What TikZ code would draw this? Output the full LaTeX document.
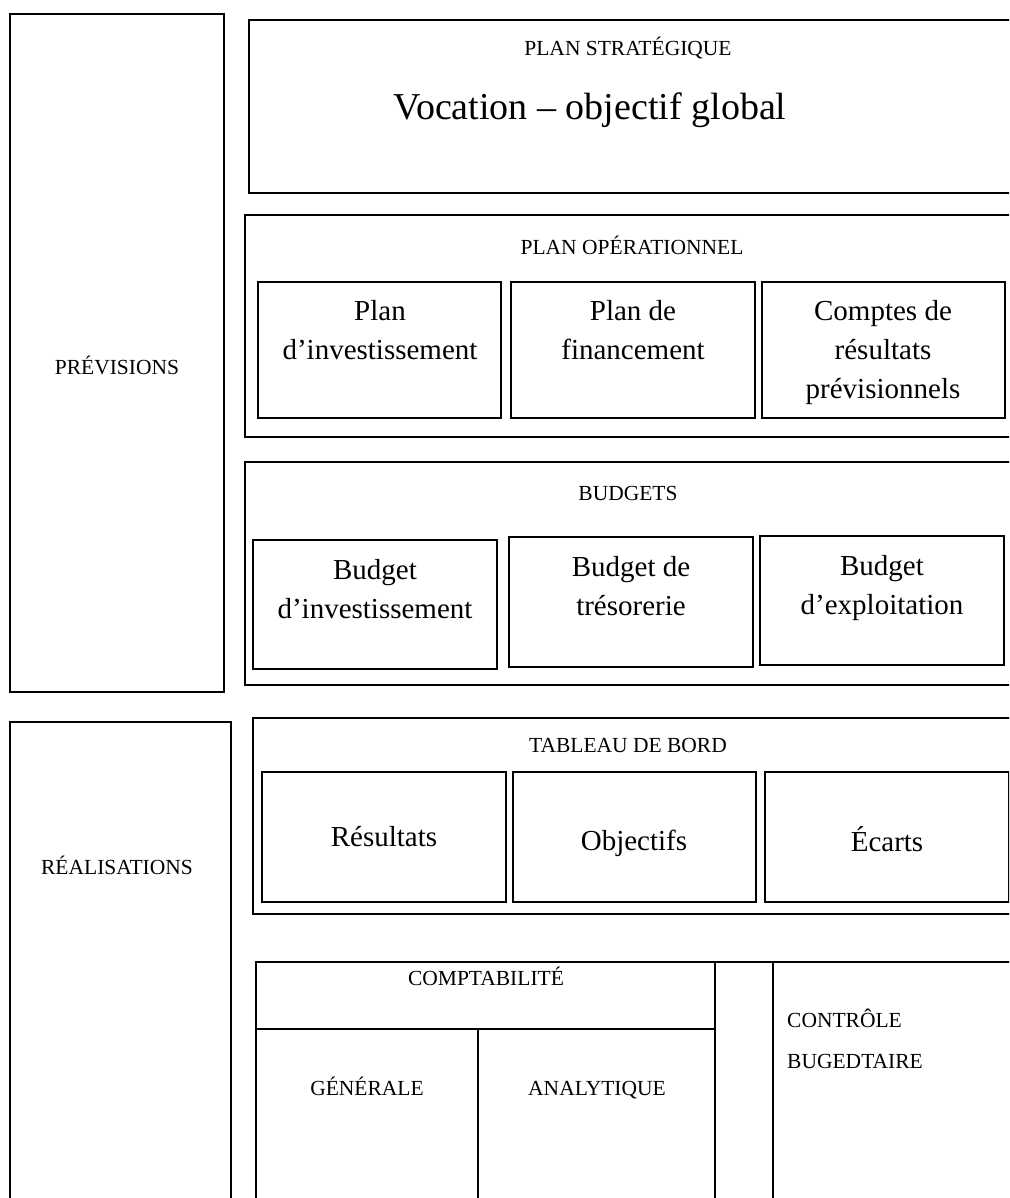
\documentclass[tikz,border=0pt]{standalone}
\usepackage{fontspec}
\setmainfont{Liberation Serif}
\begin{document}
\begin{tikzpicture}[x=1pt,y=-1pt,
  box/.style={draw,line width=1.4pt,anchor=north west,inner sep=0pt,outer sep=0pt},
  small/.style={font=\fontsize{21.5}{41}\selectfont,inner sep=0pt,align=center},
  big/.style={font=\fontsize{29}{39}\selectfont,inner sep=0pt,align=center},
  huge/.style={font=\fontsize{38}{42}\selectfont,inner sep=0pt,align=center},
  ln/.style={line width=1.4pt}]
\useasboundingbox (0,0) rectangle (1009,1198);
\clip (0,0) rectangle (1009,1198);
% left column
\node[box,minimum width=214pt,minimum height=678pt] (prev) at (10,14) {};
\node[small] (tprev) at (117,365) {PRÉVISIONS};
\node[box,minimum width=221pt,minimum height=500pt] (real) at (10,722) {};
\node[small] (treal) at (117,865) {RÉALISATIONS};
% plan strategique
\node[box,minimum width=790pt,minimum height=173pt] (strat) at (249,20) {};
\node[small] (tstrat) at (628,48) {PLAN STRATÉGIQUE};
\node[huge] (tvoc) at (590,110) {Vocation – objectif global};
% plan operationnel
\node[box,minimum width=790pt,minimum height=222pt] (oper) at (245,215) {};
\node[small] (toper) at (632,245) {PLAN OPÉRATIONNEL};
\node[box,minimum width=243pt,minimum height=136pt] (pinv) at (258,282) {};
\node[box,minimum width=244pt,minimum height=136pt] (pfin) at (511,282) {};
\node[box,minimum width=243pt,minimum height=136pt] (pcpt) at (762,282) {};
\node[big,anchor=north] (tpinv) at (380,300) {Plan\\d’investissement};
\node[big,anchor=north] (tpfin) at (633,300) {Plan de\\financement};
\node[big,anchor=north] (tpcpt) at (883,300) {Comptes de\\résultats\\prévisionnels};
% budgets
\node[box,minimum width=790pt,minimum height=223pt] (budg) at (245,462) {};
\node[small] (tbudg) at (628,493) {BUDGETS};
\node[box,minimum width=244pt,minimum height=129pt] (binv) at (253,540) {};
\node[box,minimum width=244pt,minimum height=130pt] (btre) at (509,537) {};
\node[box,minimum width=244pt,minimum height=129pt] (bexp) at (760,536) {};
\node[big,anchor=north] (tbinv) at (375,559) {Budget\\d’investissement};
\node[big,anchor=north] (tbtre) at (631,556) {Budget de\\trésorerie};
\node[big,anchor=north] (tbexp) at (882,555) {Budget\\d’exploitation};
% tableau de bord
\node[box,minimum width=790pt,minimum height=196pt] (tdb) at (253,718) {};
\node[small] (ttdb) at (628,745) {TABLEAU DE BORD};
\node[box,minimum width=244pt,minimum height=130pt] (res) at (262,772) {};
\node[box,minimum width=243pt,minimum height=130pt] (obj) at (513,772) {};
\node[box,minimum width=244pt,minimum height=130pt] (eca) at (765,772) {};
\node[big,anchor=base] (tres) at (384,846) {Résultats};
\node[big,anchor=base] (tobj) at (634,850) {Objectifs};
\node[big,anchor=base] (teca) at (887,851) {Écarts};
% comptabilite
\coordinate (c1) at (256,962);
\coordinate (c2) at (1030,962);
\coordinate (c3) at (256,1210);
\coordinate (c4) at (256,1029);
\coordinate (c5) at (715,1029);
\coordinate (c6) at (715,962);
\coordinate (c7) at (715,1210);
\coordinate (c8) at (773,962);
\coordinate (c9) at (773,1210);
\coordinate (c10) at (478,1029);
\coordinate (c11) at (478,1210);
\draw[ln] (c3) -- (c1) -- (c2);
\draw[ln] (c4) -- (c5);
\draw[ln] (c6) -- (c7);
\draw[ln] (c8) -- (c9);
\draw[ln] (c10) -- (c11);
\node[small,anchor=base] (tcpt) at (486,985) {COMPTABILITÉ};
\node[small,anchor=base] (tgen) at (367,1095) {GÉNÉRALE};
\node[small,anchor=base] (tana) at (597,1095) {ANALYTIQUE};
\node[small,align=left,anchor=base west] (tctl) at (787,1068) {CONTRÔLE\\BUGEDTAIRE};
\end{tikzpicture}
\end{document}
